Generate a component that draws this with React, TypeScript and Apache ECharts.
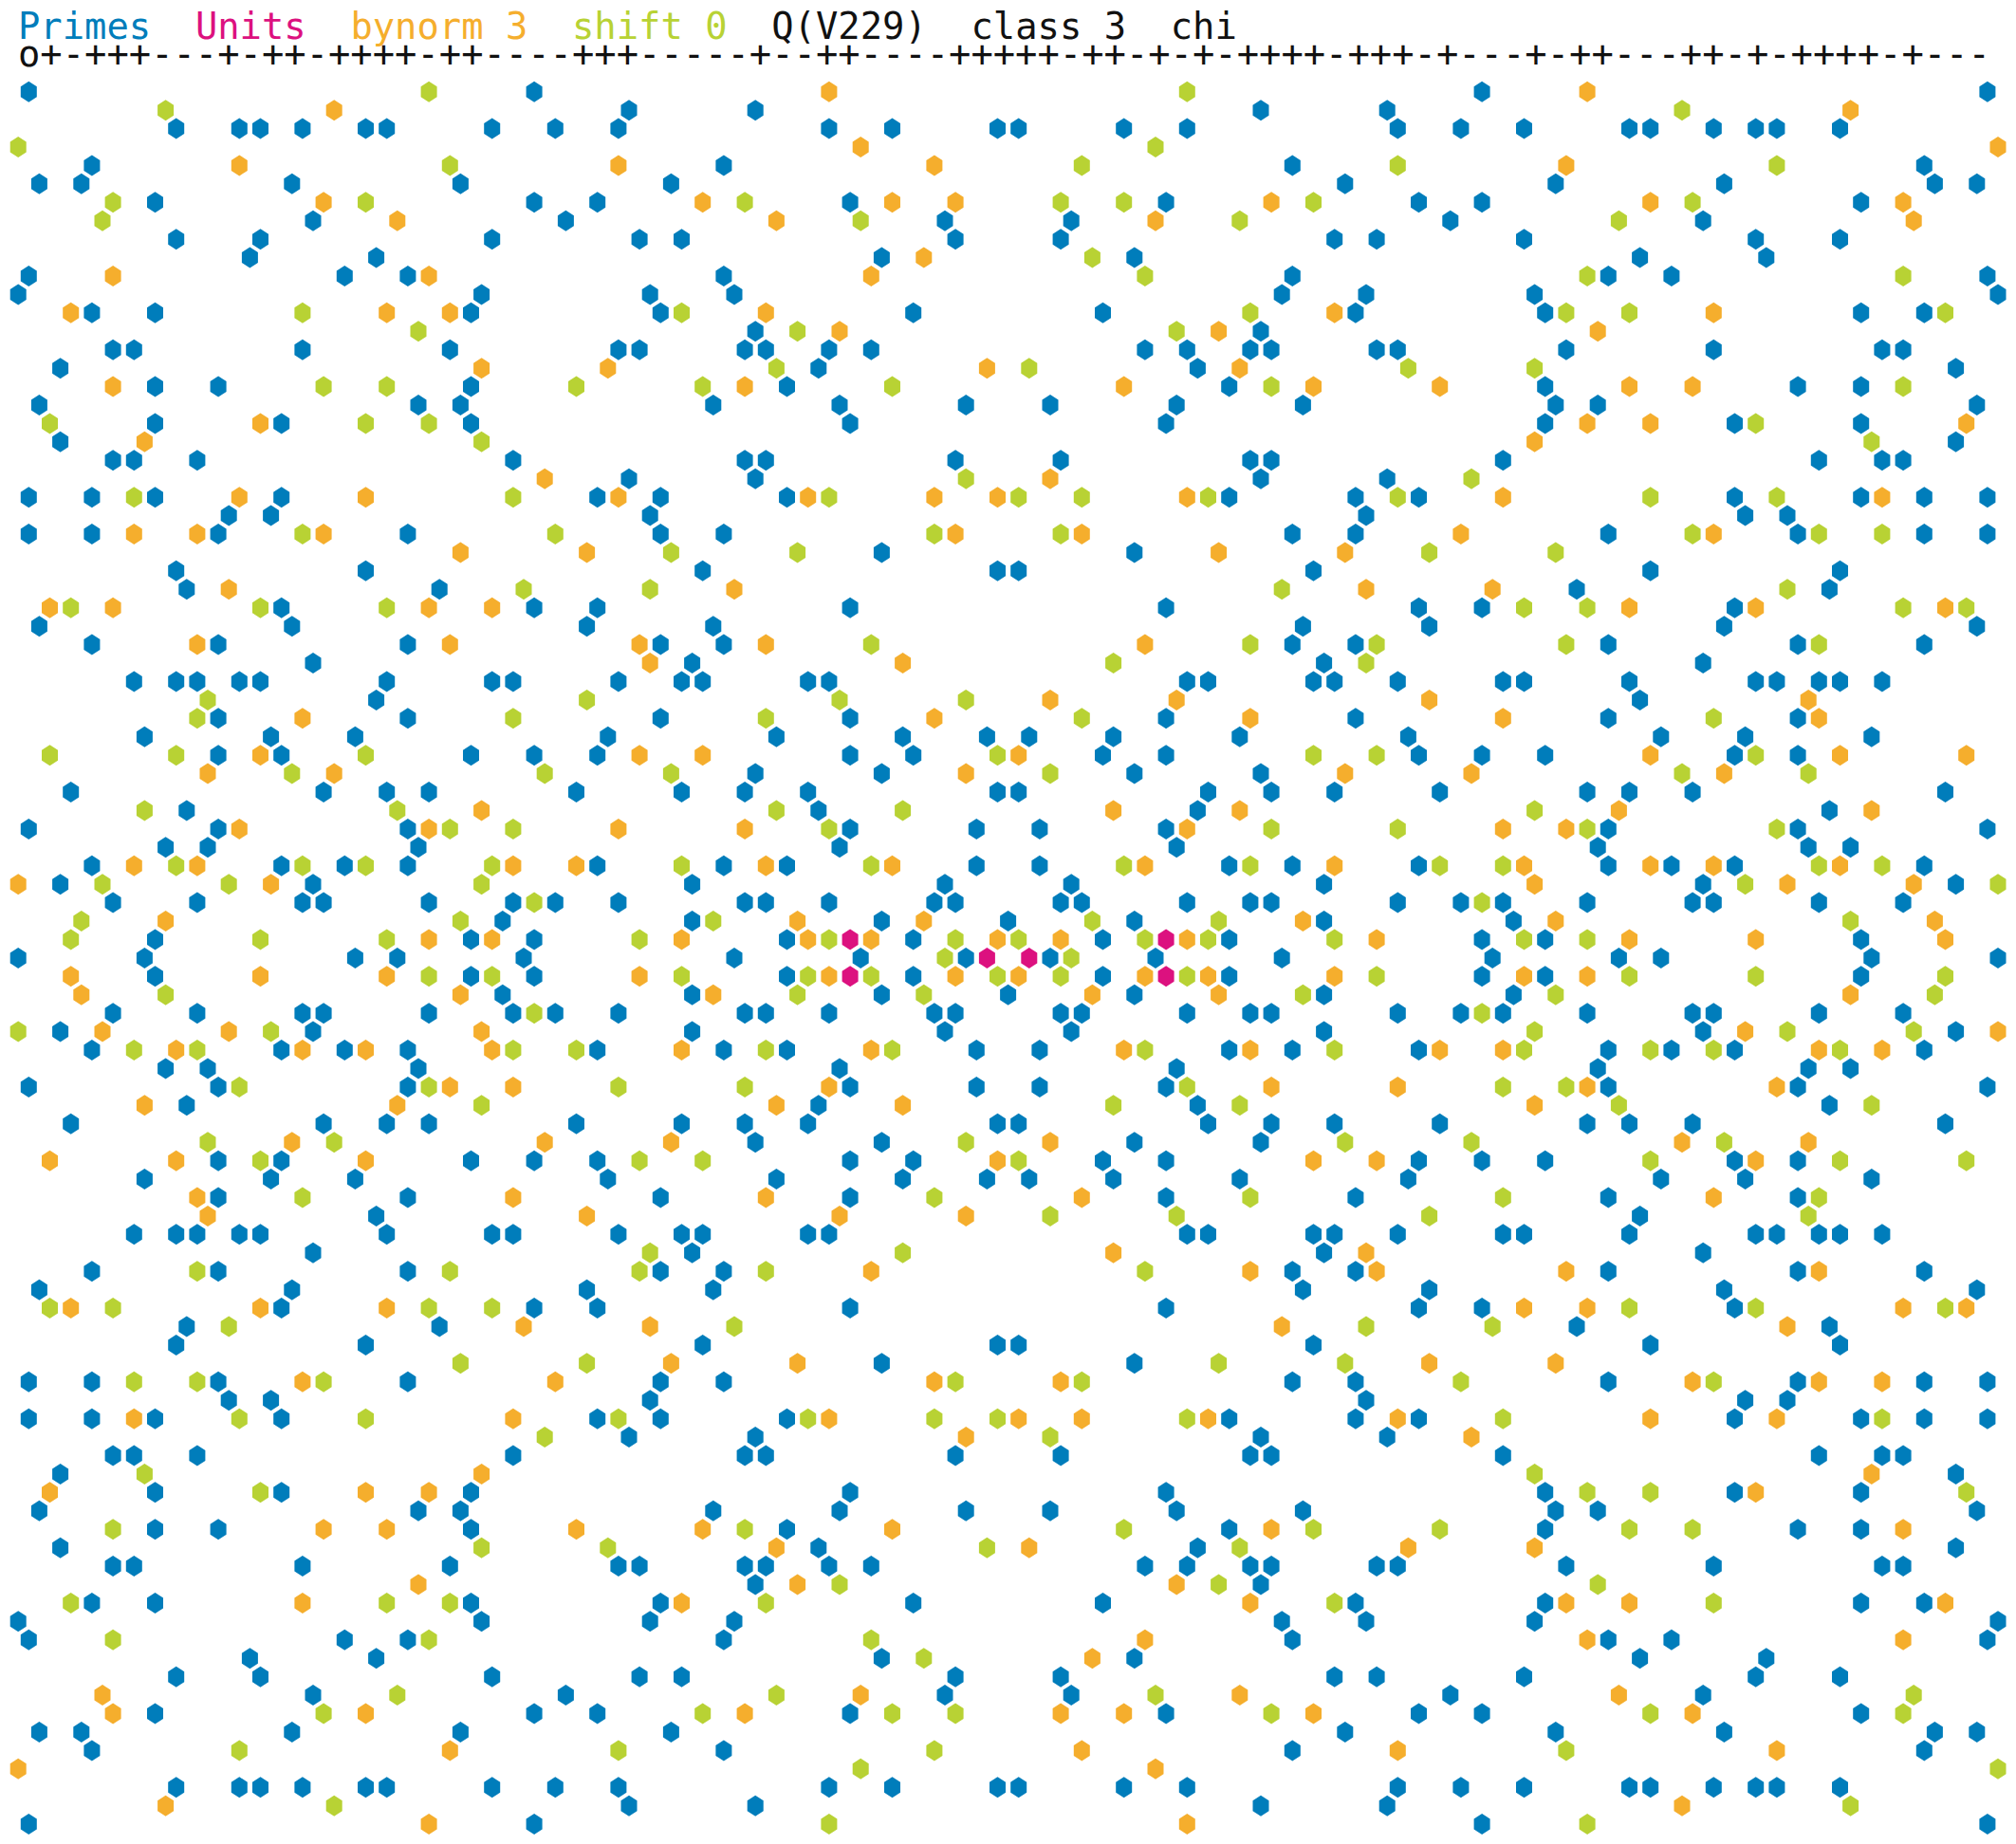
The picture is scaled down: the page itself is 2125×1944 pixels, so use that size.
import React, { useEffect, useRef } from "react";
import * as echarts from "echarts";

const legendLabels = ["Primes", "Units", "bynorm 3", "shift 0", "Q(V229)", "class 3", "chi"];
const legendColumns = [0, 8, 15, 25, 34, 43, 52];
const legendColors = ["#007DBB", "#DC117F", "#F5AE2D", "#B8D234", "#111111", "#111111", "#111111"];
const chiLine = "o+-+++---+-++-++++-++----+++-----+--++----+++++-++-+-+-++++-+++-+---+-++---++-+-++++-+---";

const unitsA = [-15, 15, -2, 2, -15, 15];
const unitsB = [1, 1, 0, 0, -1, -1];

// Each row is one value of b, top (b = 47) to bottom (b = -47); the numbers are a.
const primesByRow: number[][] = [
  [-93,-45,45,93],
  [-36,-24,24,36],
  [-79,-73,-71,-67,-61,-59,-49,-43,-37,-17,-11,-1,1,11,17,37,43,49,59,61,67,71,73,79],
  [],
  [-87,-27,27,87],
  [-92,-88,-68,-52,-32,32,52,68,88,92],
  [-81,-45,-39,-15,15,39,45,81],
  [-66,-42,-6,6,42,66],
  [-79,-71,-49,-35,-31,-5,5,31,35,49,71,79],
  [-72,-60,-12,12,60,72],
  [-93,-63,-57,-27,27,57,63,93],
  [-94,-50,-34,-26,26,34,50,94],
  [-87,-81,-51,-33,-9,9,33,51,81,87],
  [-24,24],
  [-85,-83,-67,-53,-37,-35,-25,-23,-17,-13,13,17,23,25,35,37,53,67,83,85],
  [-90,-18,18,90],
  [-81,-75,-51,-21,21,51,75,81],
  [-92,-56,-52,-28,-16,-4,4,16,28,52,56,92],
  [-81,-69,-51,-15,15,51,69,81],
  [-90,90],
  [-85,-83,-77,-47,-25,-23,-5,5,23,25,47,77,83,85],
  [-36,-24,24,36],
  [-93,-87,-81,-69,-39,-33,-21,21,33,39,69,81,87,93],
  [-74,-70,-34,34,70,74],
  [-93,-87,-75,-57,-33,-27,27,33,57,75,87,93],
  [-12,12],
  [-79,-61,-29,-1,1,29,61,79],
  [-78,-54,54,78],
  [-69,-45,-39,-15,15,39,45,69],
  [-92,-68,-40,-28,28,40,68,92],
  [-87,-75,-57,-33,-27,27,33,57,75,87],
  [-66,-30,30,66],
  [-83,-79,-77,-73,-71,-59,-49,-47,-37,-31,-29,-19,-17,17,19,29,31,37,47,49,59,71,73,77,79,83],
  [-60,60],
  [-75,-57,-33,-15,15,33,57,75],
  [-82,-70,-62,-38,-22,-10,-2,2,10,22,38,62,70,82],
  [-75,-69,-51,-45,-39,-15,-9,9,15,39,45,51,69,75],
  [-24,-12,12,24],
  [-89,-65,-59,-55,-41,-31,-25,-19,-1,1,19,25,31,41,55,59,65,89],
  [-78,-18,18,78],
  [-93,-75,-57,-15,-3,3,15,57,75,93],
  [-80,-76,-56,-16,16,56,76,80],
  [-87,-69,-63,-57,-39,-27,-21,-3,3,21,27,39,57,63,69,87],
  [-90,-66,-30,-6,6,30,66,90],
  [-85,-77,-67,-65,-55,-47,-43,-37,-25,-23,-17,-7,-5,5,7,17,23,25,37,43,47,55,65,67,77,85],
  [-48,-30,-12,0,12,30,48],
  [-81,-51,-45,-21,-9,9,21,45,51,81],
  [-94,-82,-62,-58,-46,-26,-14,-4,4,14,26,46,58,62,82,94],
  [-81,-51,-45,-21,-9,9,21,45,51,81],
  [-48,-30,-12,0,12,30,48],
  [-85,-77,-67,-65,-55,-47,-43,-37,-25,-23,-17,-7,-5,5,7,17,23,25,37,43,47,55,65,67,77,85],
  [-90,-66,-30,-6,6,30,66,90],
  [-87,-69,-63,-57,-39,-27,-21,-3,3,21,27,39,57,63,69,87],
  [-80,-76,-56,-16,16,56,76,80],
  [-93,-75,-57,-15,-3,3,15,57,75,93],
  [-78,-18,18,78],
  [-89,-65,-59,-55,-41,-31,-25,-19,-1,1,19,25,31,41,55,59,65,89],
  [-24,-12,12,24],
  [-75,-69,-51,-45,-39,-15,-9,9,15,39,45,51,69,75],
  [-82,-70,-62,-38,-22,-10,-2,2,10,22,38,62,70,82],
  [-75,-57,-33,-15,15,33,57,75],
  [-60,60],
  [-83,-79,-77,-73,-71,-59,-49,-47,-37,-31,-29,-19,-17,17,19,29,31,37,47,49,59,71,73,77,79,83],
  [-66,-30,30,66],
  [-87,-75,-57,-33,-27,27,33,57,75,87],
  [-92,-68,-40,-28,28,40,68,92],
  [-69,-45,-39,-15,15,39,45,69],
  [-78,-54,54,78],
  [-79,-61,-29,-1,1,29,61,79],
  [-12,12],
  [-93,-87,-75,-57,-33,-27,27,33,57,75,87,93],
  [-74,-70,-34,34,70,74],
  [-93,-87,-81,-69,-39,-33,-21,21,33,39,69,81,87,93],
  [-36,-24,24,36],
  [-85,-83,-77,-47,-25,-23,-5,5,23,25,47,77,83,85],
  [-90,90],
  [-81,-69,-51,-15,15,51,69,81],
  [-92,-56,-52,-28,-16,-4,4,16,28,52,56,92],
  [-81,-75,-51,-21,21,51,75,81],
  [-90,-18,18,90],
  [-85,-83,-67,-53,-37,-35,-25,-23,-17,-13,13,17,23,25,35,37,53,67,83,85],
  [-24,24],
  [-87,-81,-51,-33,-9,9,33,51,81,87],
  [-94,-50,-34,-26,26,34,50,94],
  [-93,-63,-57,-27,27,57,63,93],
  [-72,-60,-12,12,60,72],
  [-79,-71,-49,-35,-31,-5,5,31,35,49,71,79],
  [-66,-42,-6,6,42,66],
  [-81,-45,-39,-15,15,39,45,81],
  [-92,-88,-68,-52,-32,32,52,68,88,92],
  [-87,-27,27,87],
  [],
  [-79,-73,-71,-67,-61,-59,-49,-43,-37,-17,-11,-1,1,11,17,37,43,49,59,61,67,71,73,79],
  [-36,-24,24,36],
  [-93,-45,45,93],
];

const bynormByRow: number[][] = [
  [-17,55],
  [-64,80],
  [],
  [-14,94],
  [-73,-37,-7,53],
  [],
  [-65,-29,-11,-5,25,61,85],
  [-58,-22,14,86],
  [],
  [-8],
  [-85,-55,-13],
  [],
  [-89,-59,-53,-23,31,67],
  [-16,20,56],
  [],
  [-50,-38,-2,22],
  [-85,-25,11,29,41,59,65],
  [],
  [-71,55,61,91],
  [-82,50],
  [],
  [-44,4],
  [-73,-61,-37,-19,-7,-1,17,47,83],
  [],
  [-83,-77,-65,-5,7,43,67],
  [-52,-40,20,32],
  [],
  [-74,-26,34,46],
  [-91,-85,-55,-49,59,71,89],
  [],
  [-77,-53,-35,-23,13],
  [-34,-10],
  [],
  [4,16,40,76],
  [-67,-7,23,47,77],
  [],
  [-71,-35,-29,1,61,79,91],
  [-76,-64,-4,32,44,68],
  [],
  [-50,10,22,58,82],
  [-73,-55,-37,-25,17,47,53],
  [],
  [-83,-77,-47,-41,-23,-11,13,31,49,61,67,79],
  [-94,-70,50,74,86],
  [],
  [-80,-20,-8,28,52,88],
  [-55,-49,-31,-19,-13,-1,5,17,35,59,71,89],
  [],
  [-89,-71,-59,-35,-17,-5,1,13,19,31,49,55],
  [-88,-52,-28,8,20,80],
  [],
  [-86,-74,-50,70,94],
  [-79,-67,-61,-49,-31,-13,11,23,41,47,77,83],
  [],
  [-53,-47,-17,25,37,55,73],
  [-82,-58,-22,-10,50],
  [],
  [-68,-44,-32,4,64,76],
  [-91,-79,-61,-1,29,35,71],
  [],
  [-77,-47,-23,7,67],
  [-76,-40,-16,-4],
  [],
  [10,34],
  [-13,23,35,53,77],
  [],
  [-89,-71,-59,49,55,85,91],
  [-46,-34,26,74],
  [],
  [-32,-20,40,52],
  [-67,-43,-7,5,65,77,83],
  [],
  [-83,-47,-17,1,7,19,37,61,73],
  [-4,44],
  [],
  [-50,82],
  [-91,-61,-55,71],
  [],
  [-65,-59,-41,-29,-11,25,85],
  [-22,2,38,50],
  [],
  [-56,-20,16],
  [-67,-31,23,53,59,89],
  [],
  [13,55,85],
  [8],
  [],
  [-86,-14,22,58],
  [-85,-61,-25,5,11,29,65],
  [],
  [-53,7,37,73],
  [-94,14],
  [],
  [-80,64],
  [-55,17],
];

const shiftByRow: number[][] = [
  [-55,17],
  [-80,64],
  [],
  [-94,14],
  [-53,7,37,73],
  [],
  [-85,-61,-25,5,11,29,65],
  [-86,-14,22,58],
  [],
  [8],
  [13,55,85],
  [],
  [-67,-31,23,53,59,89],
  [-56,-20,16],
  [],
  [-22,2,38,50],
  [-65,-59,-41,-29,-11,25,85],
  [],
  [-91,-61,-55,71],
  [-50,82],
  [],
  [-4,44],
  [-83,-47,-17,1,7,19,37,61,73],
  [],
  [-67,-43,-7,5,65,77,83],
  [-32,-20,40,52],
  [],
  [-46,-34,26,74],
  [-89,-71,-59,49,55,85,91],
  [],
  [-13,23,35,53,77],
  [10,34],
  [],
  [-76,-40,-16,-4],
  [-77,-47,-23,7,67],
  [],
  [-91,-79,-61,-1,29,35,71],
  [-68,-44,-32,4,64,76],
  [],
  [-82,-58,-22,-10,50],
  [-53,-47,-17,25,37,55,73],
  [],
  [-79,-67,-61,-49,-31,-13,11,23,41,47,77,83],
  [-86,-74,-50,70,94],
  [-45,45],
  [-88,-52,-28,8,20,80],
  [-89,-71,-59,-35,-17,-5,1,13,19,31,49,55],
  [-6,6],
  [-55,-49,-31,-19,-13,-1,5,17,35,59,71,89],
  [-80,-20,-8,28,52,88],
  [-45,45],
  [-94,-70,50,74,86],
  [-83,-77,-47,-41,-23,-11,13,31,49,61,67,79],
  [],
  [-73,-55,-37,-25,17,47,53],
  [-50,10,22,58,82],
  [],
  [-76,-64,-4,32,44,68],
  [-71,-35,-29,1,61,79,91],
  [],
  [-67,-7,23,47,77],
  [4,16,40,76],
  [],
  [-34,-10],
  [-77,-53,-35,-23,13],
  [],
  [-91,-85,-55,-49,59,71,89],
  [-74,-26,34,46],
  [],
  [-52,-40,20,32],
  [-83,-77,-65,-5,7,43,67],
  [],
  [-73,-61,-37,-19,-7,-1,17,47,83],
  [-44,4],
  [],
  [-82,50],
  [-71,55,61,91],
  [],
  [-85,-25,11,29,41,59,65],
  [-50,-38,-2,22],
  [],
  [-16,20,56],
  [-89,-59,-53,-23,31,67],
  [],
  [-85,-55,-13],
  [-8],
  [],
  [-58,-22,14,86],
  [-65,-29,-11,-5,25,61,85],
  [],
  [-73,-37,-7,53],
  [-14,94],
  [],
  [-64,80],
  [-17,55],
];

const HEX = "path://M50 0 L100 25 L100 75 L50 100 L0 75 L0 25 Z";
const FONT = "'DejaVu Sans Mono', monospace";
const FONT_SIZE = 38.8;
const CHAR_W = 23.36;
const TEXT_X = 19;

const points = (rows: number[][]) =>
  rows.flatMap((xs, i) => xs.map((a) => [a, 47 - i]));

const series = (name: string, color: string, data: number[][]) => ({
  name,
  type: "scatter",
  data,
  symbol: HEX,
  symbolSize: [17, 22],
  clip: false,
  silent: true,
  itemStyle: { color, opacity: 1 },
});

export default function App() {
  const ref = useRef<HTMLDivElement>(null);
  useEffect(() => {
    document.body.style.margin = "0";
    document.body.style.background = "#fff";
    const chart = echarts.init(ref.current!, undefined, { renderer: "svg" });
    chart.setOption({
      animation: false,
      backgroundColor: "#ffffff",
      grid: { left: 19.2, top: 96.7, width: 2086.8, height: 1826.4 },
      xAxis: { type: "value", min: -94, max: 94, show: false },
      yAxis: { type: "value", min: -47, max: 47, show: false },
      series: [
        series("Primes", legendColors[0], points(primesByRow)),
        series("bynorm 3", legendColors[2], points(bynormByRow)),
        series("shift 0", legendColors[3], points(shiftByRow)),
        series("Units", legendColors[1], unitsA.map((a, i) => [a, unitsB[i]])),
      ],
      graphic: [
        ...legendLabels.map((label, i) => ({
          type: "text",
          x: TEXT_X + legendColumns[i] * CHAR_W,
          y: 7.7,
          silent: true,
          style: {
            text: label,
            fill: legendColors[i],
            font: `${FONT_SIZE}px ${FONT}`,
            verticalAlign: "top",
          },
        })),
        {
          type: "text",
          x: TEXT_X,
          y: 37,
          silent: true,
          style: {
            text: chiLine,
            fill: "#111111",
            font: `${FONT_SIZE}px ${FONT}`,
            verticalAlign: "top",
          },
        },
      ],
    });
    return () => chart.dispose();
  }, []);
  return <div ref={ref} style={{ width: 2125, height: 1944 }} />;
}
